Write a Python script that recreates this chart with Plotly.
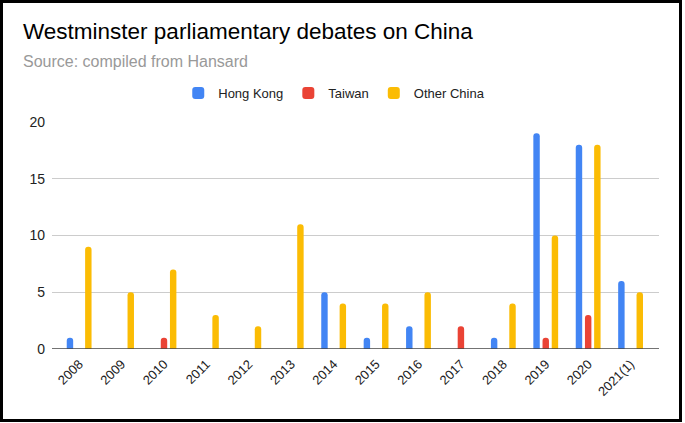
import plotly.graph_objects as go

years = ["2008", "2009", "2010", "2011", "2012", "2013", "2014", "2015",
         "2016", "2017", "2018", "2019", "2020", "2021(1)"]
hong_kong = [1, 0, 0, 0, 0, 0, 5, 1, 2, 0, 1, 19, 18, 6]
taiwan = [0, 0, 1, 0, 0, 0, 0, 0, 0, 2, 0, 1, 3, 0]
other_china = [9, 5, 7, 3, 2, 11, 4, 4, 5, 0, 4, 10, 18, 5]
y_ticks = [0, 5, 10, 15, 20]

W, H = 685, 423
L, R, T, B = 52, 26, 122, 74
PW, PH = W - L - R, H - T - B


def px_x(p):
    return (p - L) / PW


def px_y(p):
    return (H - B - p) / PH


FONT = "Arial, 'Liberation Sans', sans-serif"

fig = go.Figure()
for name, vals, col in [("Hong Kong", hong_kong, "#4285F4"),
                        ("Taiwan", taiwan, "#EA4335"),
                        ("Other China", other_china, "#FBBC04")]:
    fig.add_trace(go.Bar(x=years, y=vals, name=name,
                         marker=dict(color=col, cornerradius=3, line=dict(width=0))))

fig.update_layout(
    width=W, height=H,
    margin=dict(l=L, r=R, t=T, b=B, autoexpand=False),
    paper_bgcolor="white", plot_bgcolor="white",
    barmode="group", bargap=0.35, bargroupgap=0.3,
    font=dict(family=FONT, size=13, color="#222222"),
    showlegend=True,
    legend=dict(orientation="h", x=0.465, xanchor="center", y=px_y(93),
                yanchor="middle", font=dict(size=13, color="#222222"),
                bgcolor="rgba(0,0,0,0)", traceorder="normal"),
    xaxis=dict(type="category", range=[-0.64, 13.67], showgrid=False,
               showline=False, zeroline=False, ticks="", tickangle=-45,
               ticklabelstandoff=4,
               tickfont=dict(size=13, color="#222222")),
    yaxis=dict(range=[0, 20], tickvals=y_ticks, showgrid=True,
               gridcolor="#cccccc", gridwidth=1, zeroline=False,
               showline=False, ticks="", ticklabelstandoff=6,
               tickfont=dict(size=14, color="#222222")),
    annotations=[
        dict(text="Westminster parliamentary debates on China", xref="paper",
             yref="paper", x=px_x(21), y=px_y(31), xanchor="left",
             yanchor="middle", showarrow=False,
             font=dict(family=FONT, size=22.5, color="#000000")),
        dict(text="Source: compiled from Hansard", xref="paper", yref="paper",
             x=px_x(21), y=px_y(62), xanchor="left", yanchor="middle",
             showarrow=False, font=dict(family=FONT, size=16, color="#999999")),
    ],
    shapes=[
        dict(type="line", xref="paper", yref="y", x0=0, x1=1, y0=0, y1=0,
             line=dict(color="#444444", width=1.5), layer="above"),
        dict(type="rect", xref="paper", yref="paper",
             x0=px_x(1.5), x1=px_x(680.5), y0=px_y(420.5), y1=px_y(1.5),
             line=dict(color="#000000", width=3), fillcolor="rgba(0,0,0,0)"),
    ],
)

fig.write_html("out.html", config={"displayModeBar": False},
               post_script="document.body.style.margin='0';document.body.style.overflow='hidden';")
